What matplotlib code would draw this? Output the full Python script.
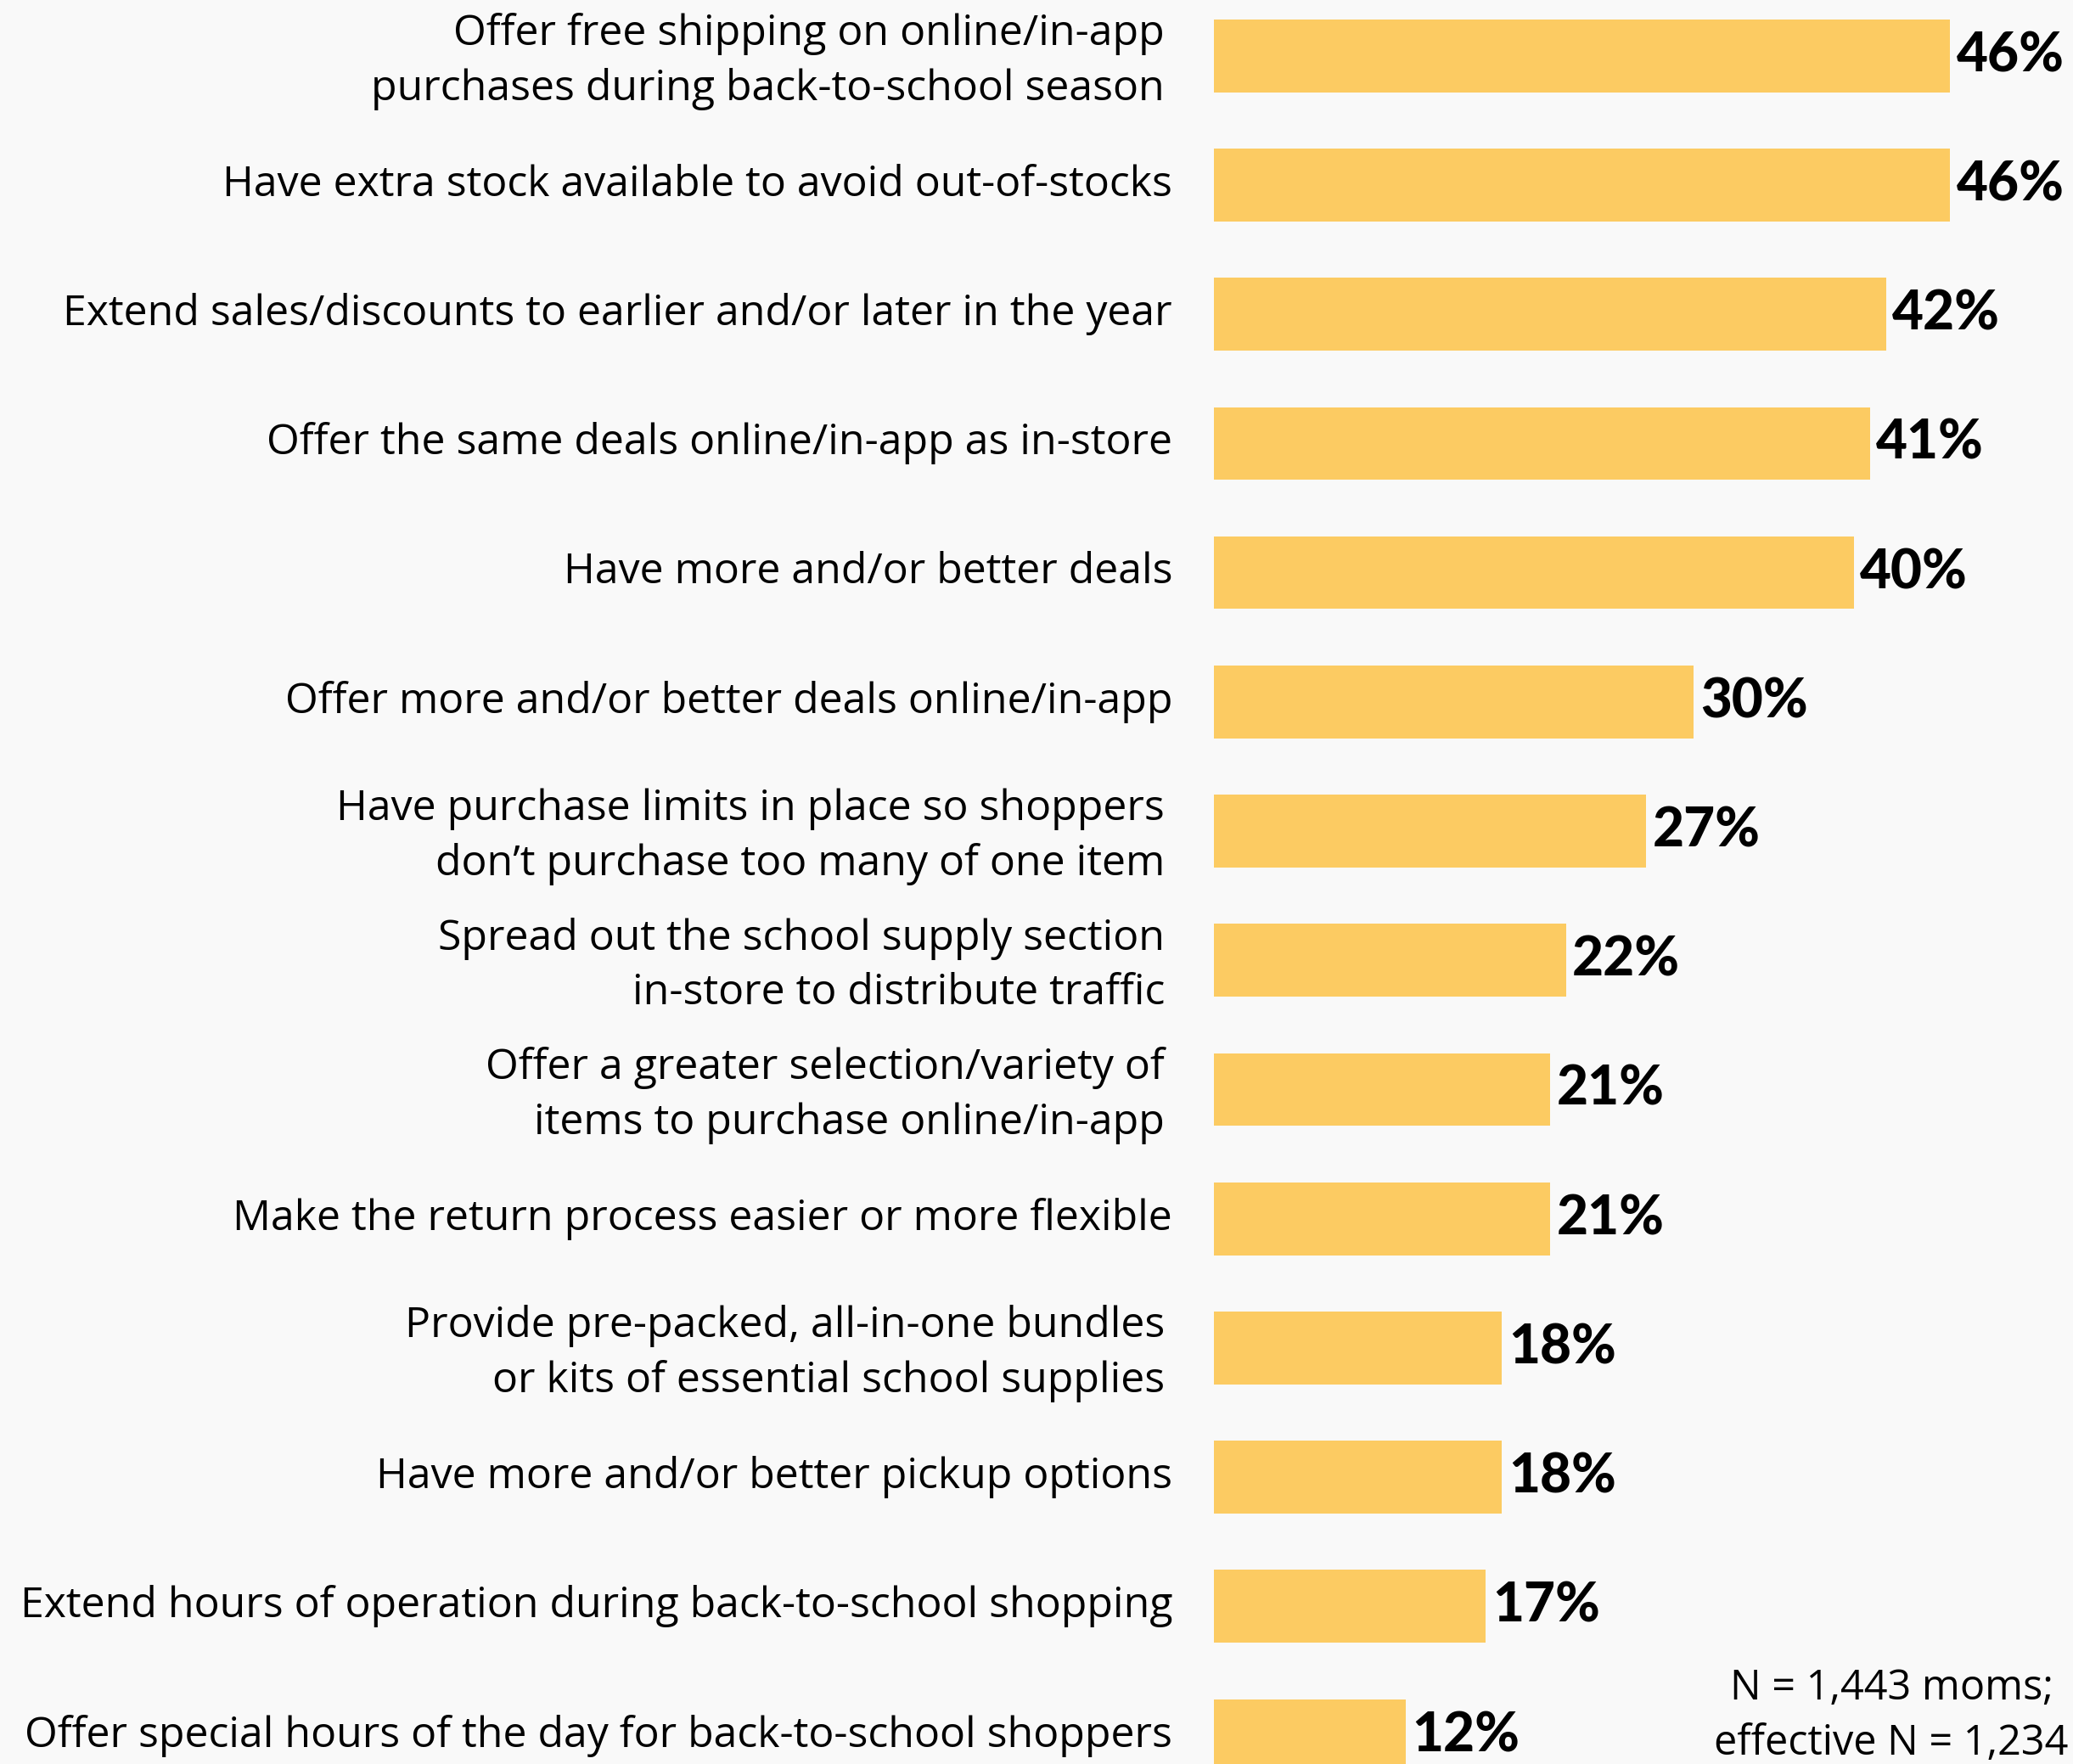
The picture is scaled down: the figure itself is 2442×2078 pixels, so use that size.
import matplotlib
matplotlib.use('Agg')
from matplotlib import pyplot as plt

labels = [
    'Offer free shipping on online/in-app\npurchases during back-to-school season',
    'Have extra stock available to avoid out-of-stocks',
    'Extend sales/discounts to earlier and/or later in the year',
    'Offer the same deals online/in-app as in-store',
    'Have more and/or better deals',
    'Offer more and/or better deals online/in-app',
    'Have purchase limits in place so shoppers\ndon\u2019t purchase too many of one item',
    'Spread out the school supply section\nin-store to distribute traffic',
    'Offer a greater selection/variety of\nitems to purchase online/in-app',
    'Make the return process easier or more flexible',
    'Provide pre-packed, all-in-one bundles\nor kits of essential school supplies',
    'Have more and/or better pickup options',
    'Extend hours of operation during back-to-school shopping',
    'Offer special hours of the day for back-to-school shoppers',
]
values = [46, 46, 42, 41, 40, 30, 27, 22, 21, 21, 18, 18, 17, 12]
note = 'N = 1,443 moms;\neffective N = 1,234'

bg = '#f9f9f9'
bar_color = '#fccb62'
font = 'Open Sans'

fig = plt.figure(figsize=(24.42, 20.78), dpi=100, facecolor=bg)
ax = fig.add_axes([0.5856, 0, 0.4144, 1])
ax.set_facecolor(bg)

ypos = list(range(len(values)))
ax.barh(ypos, values, height=0.563, color=bar_color)

ax.set_xlim(0, 53.7)
ax.set_ylim(13.22, -0.432)
ax.axis('off')

for y, lab, v in zip(ypos, labels, values):
    if '\n' in lab:
        x0, y0 = -3.07, y + 0.045
    else:
        x0, y0 = -2.6, y
    ax.text(x0, y0, lab, ha='right', va='center', fontsize=36, family=font,
            linespacing=1.4, color='black', clip_on=False)
    ax.text(v + 0.4, y, f'{v}%', ha='left', va='center', fontsize=46,
            family='Lato', fontweight='black', color='black')

# sample size note, bottom right
fig.text(2228 / 2442, 1 - 2022 / 2078, note, ha='center', va='center',
         fontsize=35, family=font, linespacing=1.4, color='black')

plt.savefig('out.png', dpi=100, facecolor=bg)
